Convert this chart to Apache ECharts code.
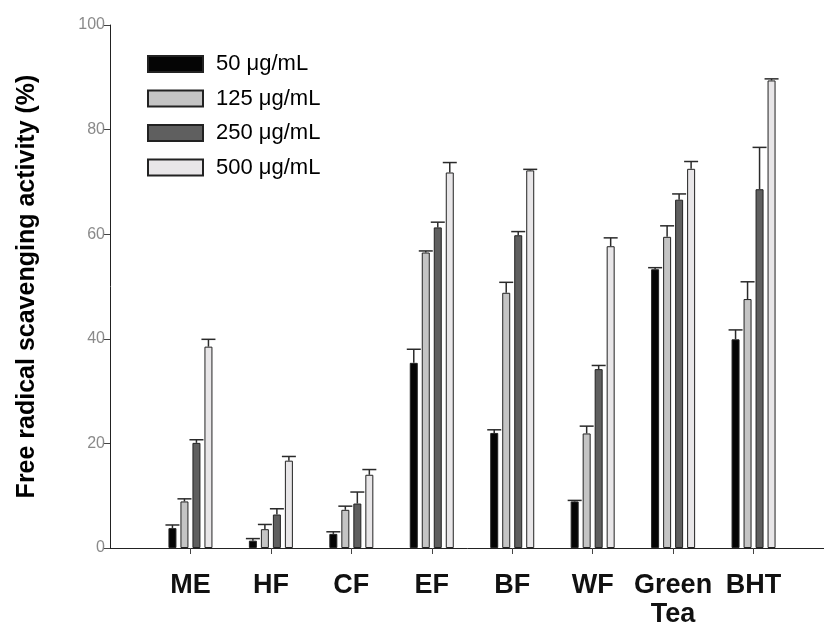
<!DOCTYPE html>
<html>
<head>
<meta charset="utf-8">
<script src="https://cdn.jsdelivr.net/npm/echarts@6/dist/echarts.min.js"></script>
<style>
html, body { margin: 0; padding: 0; background: #fff; }
#chart { width: 824px; height: 630px; }
</style>
</head>
<body>
<div id="chart"></div>
<script>
// samples on the x axis
var categories = ['ME', 'HF', 'CF', 'EF', 'BF', 'WF', 'Green\nTea', 'BHT'];
var seriesNames = ['50 \u03bcg/mL', '125 \u03bcg/mL', '250 \u03bcg/mL', '500 \u03bcg/mL'];

// mean values (%)
var val50  = [3.8, 1.4, 2.7, 35.4, 22.0, 8.9, 53.3, 39.9];
var val125 = [8.9, 3.6, 7.3, 56.5, 48.8, 21.9, 59.5, 47.6];
var val250 = [20.1, 6.4, 8.5, 61.3, 59.8, 34.2, 66.6, 68.6];
var val500 = [38.5, 16.7, 14.0, 71.8, 72.2, 57.7, 72.5, 89.4];

// error bars (upper only)
var err50  = [0.6, 0.4, 0.4, 2.6, 0.6, 0.2, 0.3, 1.8];
var err125 = [0.5, 0.9, 0.7, 0.3, 2.0, 1.4, 2.1, 3.3];
var err250 = [0.6, 1.1, 2.2, 1.0, 0.7, 0.7, 1.1, 8.0];
var err500 = [1.4, 0.8, 1.0, 1.9, 0.2, 1.6, 1.4, 0.3];

var yTicks = [0, 20, 40, 60, 80, 100];

var colors = ['#050505', '#c4c4c4', '#5f5f5f', '#e8e6e8'];
var values = [val50, val125, val250, val500];
var errors = [err50, err125, err250, err500];

var barW = 8, pitch = 12;

// pad the axis with an empty slot on each side
var axisCats = [''].concat(categories).concat(['']);

var series = [];
values.forEach(function (vals, i) {
    series.push({
        name: seriesNames[i],
        type: 'bar',
        barWidth: barW,
        barGap: '50%',
        data: ['-'].concat(vals).concat(['-']),
        itemStyle: { color: colors[i], borderColor: '#222', borderWidth: 1 },
        emphasis: { disabled: true },
        z: 2
    });
});
values.forEach(function (vals, i) {
    var offset = (i - 1.5) * pitch;
    series.push({
        name: 'err' + i,
        type: 'custom',
        z: 3,
        data: vals.map(function (v, k) { return [k + 1, v, errors[i][k]]; }),
        renderItem: function (params, api) {
            var c = api.value(0);
            var p0 = api.coord([c, api.value(1)]);
            var p1 = api.coord([c, api.value(1) + api.value(2)]);
            var x = p0[0] + offset;
            var st = { stroke: '#2a2a2a', lineWidth: 1.5 };
            return {
                type: 'group',
                children: [
                    { type: 'line', shape: { x1: x, y1: p0[1], x2: x, y2: p1[1] }, style: st },
                    { type: 'line', shape: { x1: x - 7, y1: p1[1], x2: x + 7, y2: p1[1] }, style: st }
                ]
            };
        }
    });
});

var dom = document.getElementById('chart');
var myChart = echarts.init(dom);
var option = {
    backgroundColor: '#fff',
    animation: false,
    grid: { left: 110, right: -10, top: 25, bottom: 82, outerBoundsMode: 'none', containLabel: false },
    legend: {
        data: seriesNames,
        orient: 'vertical',
        left: 147,
        top: 53,
        padding: 0,
        icon: 'rect',
        itemWidth: 55,
        itemHeight: 16,
        itemGap: 12.5,
        textStyle: {
            fontFamily: 'Liberation Sans, Arial, sans-serif',
            fontSize: 22,
            color: '#000',
            lineHeight: 16,
            height: 16,
            padding: [0, 0, 0, 8]
        }
    },
    xAxis: {
        type: 'category',
        data: axisCats,
        boundaryGap: false,
        axisLine: { lineStyle: { color: '#222', width: 1 } },
        axisTick: {
            length: 6,
            lineStyle: { color: '#444' },
            interval: function (index) { return index > 0 && index < axisCats.length - 1; }
        },
        axisLabel: {
            interval: 0,
            margin: 23,
            fontFamily: 'Liberation Sans Narrow, Liberation Sans, Arial, sans-serif',
            fontWeight: 'bold',
            fontSize: 27,
            lineHeight: 29,
            color: '#111'
        },
        splitLine: { show: false }
    },
    yAxis: {
        type: 'value',
        min: yTicks[0],
        max: yTicks[yTicks.length - 1],
        interval: 20,
        name: 'Free radical scavenging activity (%)',
        nameLocation: 'middle',
        nameGap: 70,
        nameTextStyle: {
            fontFamily: 'Liberation Sans, Arial, sans-serif',
            fontWeight: 'bold',
            fontSize: 25,
            color: '#000'
        },
        axisLine: { show: true, lineStyle: { color: '#222', width: 1 } },
        axisTick: { show: true, length: 6, lineStyle: { color: '#444' } },
        axisLabel: {
            margin: 5,
            fontFamily: 'Liberation Sans, Arial, sans-serif',
            fontSize: 16,
            color: '#8a8a8a'
        },
        splitLine: { show: false }
    },
    series: series
};
if (option && typeof option == "object") {
    myChart.setOption(option, true);
}
</script>
</body>
</html>
